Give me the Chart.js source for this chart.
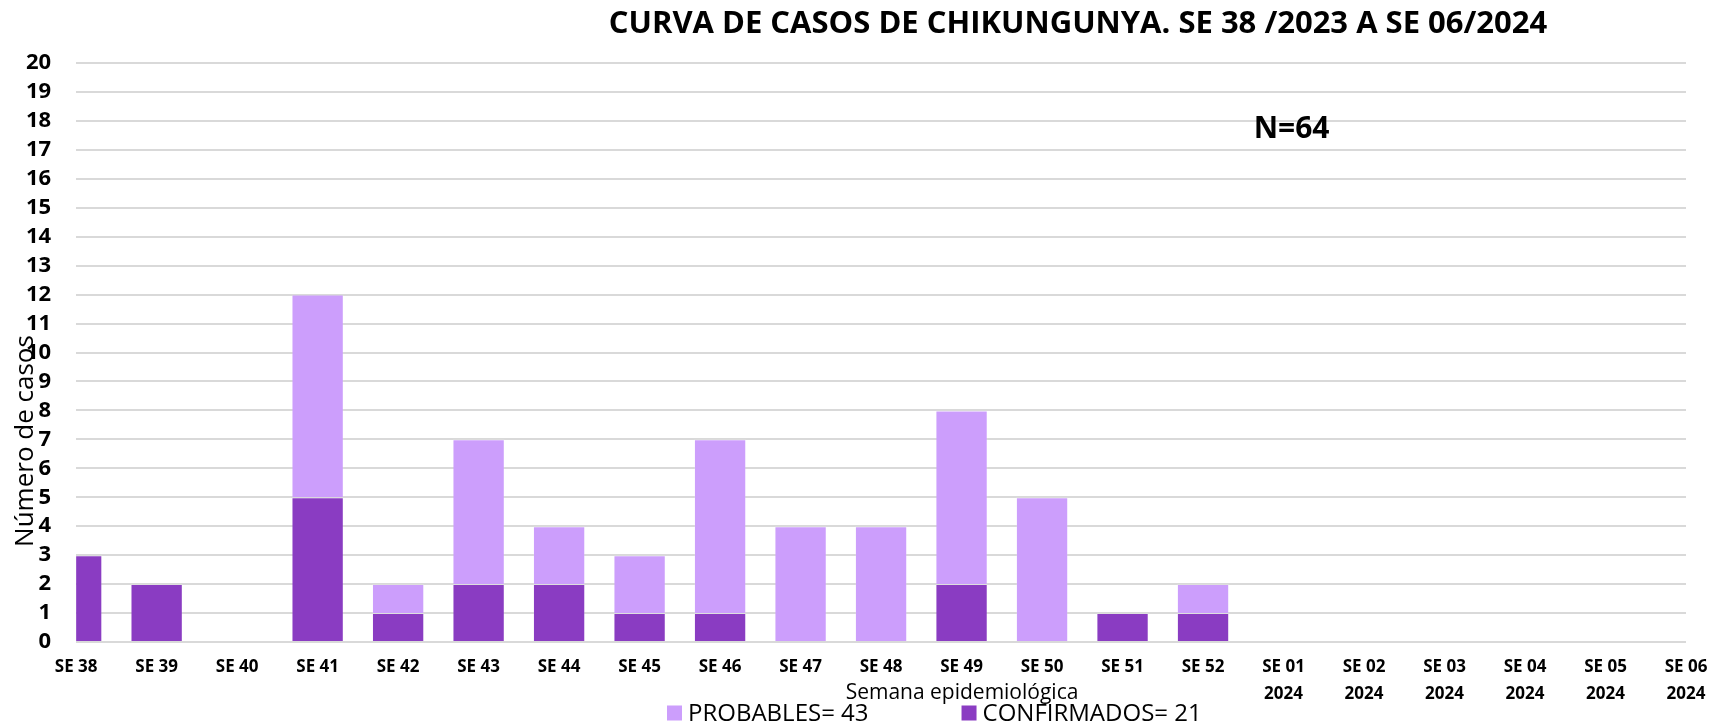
<!DOCTYPE html>
<html lang="es">
<head>
  <meta charset="UTF-8">
  <title>Curva de casos de Chikungunya</title>
  <script src="https://cdn.jsdelivr.net/npm/chart.js"></script>
  <style>
        body {
            margin: 0;
            background: #fff;
        }
        canvas {
            display: block;
        }
    </style>
</head>
<body>

<canvas id="curvaCasos" width="1724" height="726"></canvas>

<script>
        // semanas epidemiologicas (eje x)
        const semanas = ['SE 38', 'SE 39', 'SE 40', 'SE 41', 'SE 42', 'SE 43', 'SE 44', 'SE 45',
            'SE 46', 'SE 47', 'SE 48', 'SE 49', 'SE 50', 'SE 51', 'SE 52',
            ['SE 01', '2024'], ['SE 02', '2024'], ['SE 03', '2024'], ['SE 04', '2024'],
            ['SE 05', '2024'], ['SE 06', '2024']];

        // casos por semana
        const confirmados = [3, 2, 0, 5, 1, 2, 2, 1, 1, 0, 0, 2, 0, 1, 1, 0, 0, 0, 0, 0, 0];
        const probables   = [0, 0, 0, 7, 1, 5, 2, 2, 6, 4, 4, 6, 5, 0, 1, 0, 0, 0, 0, 0, 0];

        const etiquetaConfirmados = 'CONFIRMADOS= 21';
        const etiquetaProbables = 'PROBABLES= 43';
        const titulo = 'CURVA DE CASOS DE CHIKUNGUNYA. SE 38 /2023 A SE 06/2024';
        const nota = 'N=64';
        const ejeYMax = 20;

        const FUENTE = '"Open Sans", "Noto Sans", sans-serif';

        // textos sueltos y leyenda dibujados a mano
        const textosExtra = {
            id: 'textosExtra',
            afterDraw(chart) {
                const ctx = chart.ctx;
                const sx = chart.scales.x;
                const sy = chart.scales.y;
                ctx.save();
                ctx.fillStyle = '#000';
                ctx.textBaseline = 'middle';
                ctx.textAlign = 'center';

                ctx.font = 'bold 31px ' + FUENTE;
                ctx.fillText(titulo, 1078, 24);

                ctx.font = 'bold 30px ' + FUENTE;
                ctx.fillText(nota, sx.getPixelForValue(15.1), sy.getPixelForValue(17.7));

                ctx.font = '21px ' + FUENTE;
                ctx.fillText('Semana epidemiológica', 962, 693);

                ctx.save();
                ctx.translate(26, 441);
                ctx.rotate(-Math.PI / 2);
                ctx.font = '26px ' + FUENTE;
                ctx.fillText('Número de casos', 0, 0);
                ctx.restore();

                // leyenda
                ctx.font = '24px ' + FUENTE;
                ctx.textAlign = 'left';
                let lx = 667;
                const ly = 713;
                chart.data.datasets.slice().reverse().forEach(ds => {
                    ctx.fillStyle = ds.backgroundColor;
                    ctx.fillRect(lx, ly - 7.5, 15, 15);
                    ctx.fillStyle = '#000';
                    ctx.fillText(ds.label, lx + 21, ly + 1);
                    lx += 21 + ctx.measureText(ds.label).width + 93;
                });
                ctx.restore();
            }
        };

        const ctx1 = document.getElementById('curvaCasos').getContext('2d');
        new Chart(ctx1, {
            type: 'bar',
            data: {
                labels: semanas,
                datasets: [{
                    label: etiquetaConfirmados,
                    data: confirmados,
                    backgroundColor: '#8A3CC2',
                    borderColor: 'rgba(255,255,255,0.15)',
                    borderWidth: 1
                }, {
                    label: etiquetaProbables,
                    data: probables,
                    backgroundColor: '#CC9EFC',
                    borderColor: 'rgba(255,255,255,0.15)',
                    borderWidth: 1
                }]
            },
            options: {
                responsive: false,
                animation: false,
                devicePixelRatio: 1,
                barPercentage: 0.65,
                categoryPercentage: 1,
                layout: {
                    padding: { left: 1, right: 38, top: 63, bottom: 6 }
                },
                plugins: {
                    legend: { display: false },
                    title: { display: false },
                    tooltip: { enabled: false }
                },
                scales: {
                    x: {
                        stacked: true,
                        offset: false,
                        grid: { display: false, drawTicks: false },
                        border: { display: false },
                        ticks: {
                            color: '#000',
                            padding: 12,
                            maxRotation: 0,
                            autoSkip: false,
                            font: { family: FUENTE, size: 17, weight: 'bold', lineHeight: '27px' }
                        }
                    },
                    y: {
                        stacked: true,
                        min: 0,
                        max: ejeYMax,
                        grid: { color: '#D9D9D9', lineWidth: 2, drawTicks: false },
                        border: { display: false },
                        ticks: {
                            stepSize: 1,
                            autoSkip: false,
                            color: '#000',
                            padding: 25,
                            font: { family: FUENTE, size: 22, weight: 'bold' }
                        }
                    }
                }
            },
            plugins: [textosExtra]
        });
    </script>

</body>
</html>
